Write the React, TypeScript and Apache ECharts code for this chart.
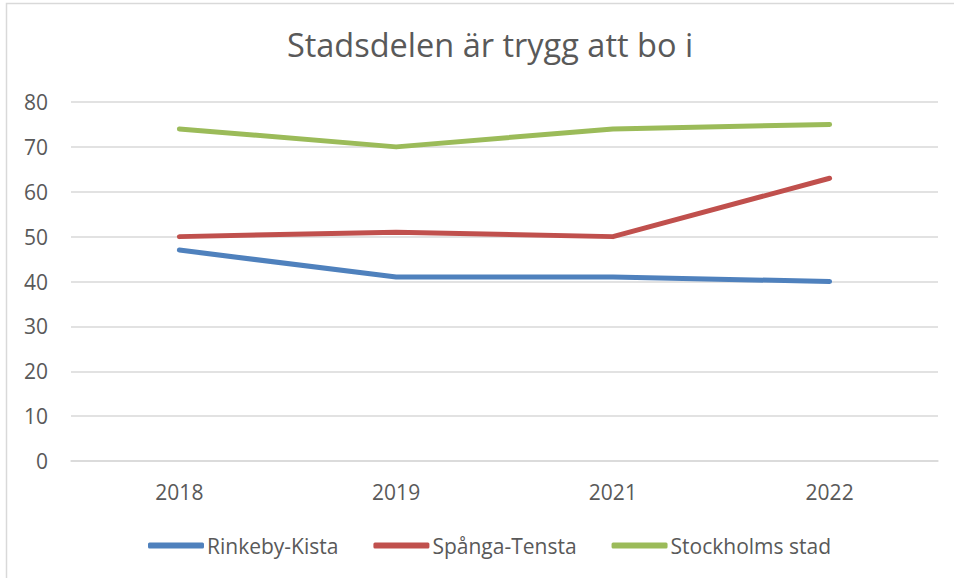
import React, { useEffect, useRef } from "react";
import * as echarts from "echarts";

const titleText = "Stadsdelen är trygg att bo i";
const categories = ["2018", "2019", "2021", "2022"];
const rinkebyKista = [47, 41, 41, 40];
const spangaTensta = [50, 51, 50, 63];
const stockholmsStad = [74, 70, 74, 75];
const seriesNames = ["Rinkeby-Kista", "Spånga-Tensta", "Stockholms stad"];
const colors = ["#4F81BD", "#C0504D", "#9BBB59"];

const FONT = "'Open Sans', 'Noto Sans', sans-serif";

export default function App() {
  const ref = useRef<HTMLDivElement>(null);
  useEffect(() => {
    document.body.style.margin = "0";
    const chart = echarts.init(ref.current!, null, { renderer: "svg" });
    const values = [rinkebyKista, spangaTensta, stockholmsStad];
    chart.setOption({
      animation: false,
      backgroundColor: "#ffffff",
      title: {
        text: titleText,
        left: 485,
        top: 23,
        textAlign: "center",
        textStyle: { fontFamily: FONT, fontSize: 32.5, fontWeight: "normal", color: "#595959" },
      },
      graphic: [
        {
          type: "rect",
          shape: { x: 6.5, y: 3.5, width: 1000, height: 1000 },
          style: { fill: "none", stroke: "#D9D9D9", lineWidth: 1.5 },
          silent: true,
          z: -1,
        },
      ],
      grid: { left: 71, right: 16, top: 102, bottom: 117, containLabel: false },
      xAxis: {
        type: "category",
        data: categories,
        boundaryGap: true,
        axisLine: { show: true, lineStyle: { color: "#D9D9D9", width: 1.5 } },
        axisTick: { show: false },
        axisLabel: { fontFamily: FONT, fontSize: 21, color: "#595959", margin: 20 },
      },
      yAxis: {
        type: "value",
        min: 0,
        max: 80,
        interval: 10,
        axisLine: { show: false },
        axisTick: { show: false },
        splitLine: { lineStyle: { color: "#D9D9D9", width: 1.5 } },
        axisLabel: { fontFamily: FONT, fontSize: 21, color: "#595959", margin: 23 },
      },
      legend: {
        bottom: 17,
        left: 143,
        itemWidth: 56,
        itemHeight: 6,
        itemGap: 35,
        icon: "roundRect",
        data: seriesNames,
        textStyle: { fontFamily: FONT, fontSize: 21, color: "#595959", padding: [0, 0, 0, -2] },
      },
      series: seriesNames.map((name, i) => ({
        name,
        type: "line",
        data: values[i],
        symbol: "none",
        color: colors[i],
        lineStyle: { color: colors[i], width: 5, cap: "round", join: "round" },
        itemStyle: { color: colors[i] },
      })),
    });
    return () => chart.dispose();
  }, []);
  return <div ref={ref} style={{ width: 954, height: 578 }} />;
}
